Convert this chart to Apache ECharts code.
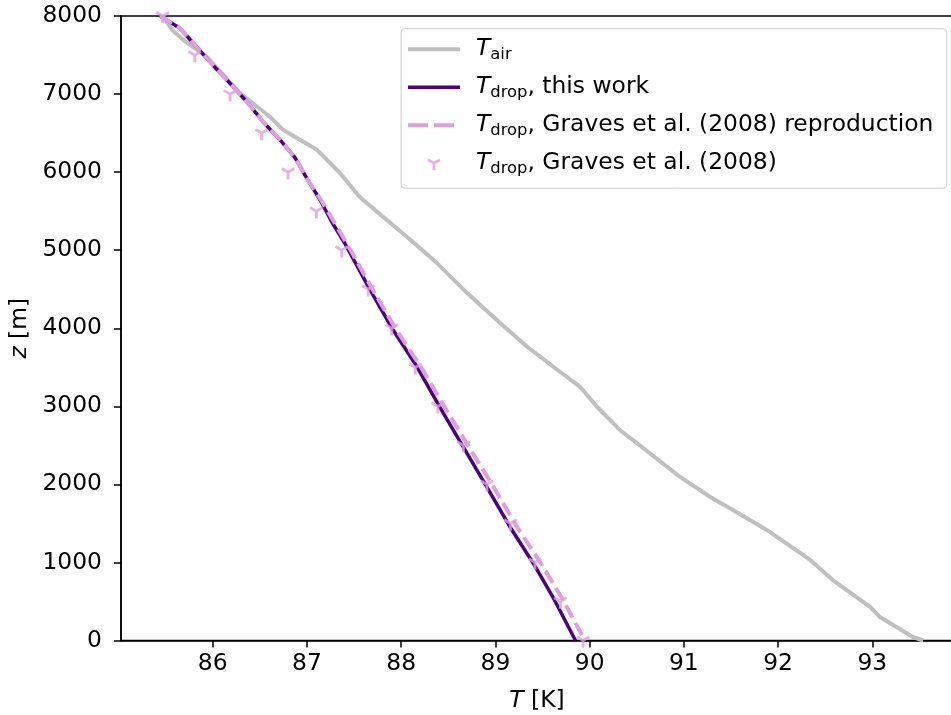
<!DOCTYPE html>
<html>
<head>
<meta charset="utf-8">
<script src="https://cdn.jsdelivr.net/npm/echarts@6/dist/echarts.min.js"></script>
<style>
html,body{margin:0;padding:0;background:#fff;}
#chart{width:951px;height:715px;}
</style>
</head>
<body>
<div id="chart"></div>
<script>
// ---- data ----
const xTicks = [86, 87, 88, 89, 90, 91, 92, 93];
const yTicks = [0, 1000, 2000, 3000, 4000, 5000, 6000, 7000, 8000];

const tairT = [85.47, 85.57, 85.69, 85.94, 86.29, 86.61, 86.75, 87.11, 87.35, 87.56, 87.81, 88.10, 88.38, 88.70, 89.05, 89.34, 89.66, 89.90, 90.08, 90.32, 90.46, 90.96, 91.28, 91.52, 91.88, 92.34, 92.58, 92.98, 93.08, 93.43, 93.54];
const tairZ = [8000, 7822, 7692, 7475, 7013, 6706, 6539, 6283, 5989, 5682, 5425, 5130, 4835, 4451, 4067, 3760, 3465, 3248, 2991, 2697, 2568, 2095, 1838, 1672, 1416, 1032, 775, 429, 301, 45, 0];

const dropT = [85.44, 85.65, 85.83, 86.00, 86.18, 86.365, 86.535, 86.715, 86.875, 87.01, 87.14, 87.27, 87.40, 87.67, 87.915, 88.17, 88.41, 88.66, 88.91, 89.155, 89.40, 89.61, 89.85];
const dropZ = [8000, 7846, 7603, 7373, 7142, 6899, 6643, 6412, 6182, 5899, 5643, 5348, 5092, 4490, 3977, 3503, 2991, 2478, 1966, 1454, 993, 557, 0];

const reproT = [85.44, 85.65, 85.83, 86.00, 86.18, 86.365, 86.535, 86.715, 86.875, 87.01, 87.15, 87.42, 87.70, 87.95, 88.21, 88.46, 88.72, 88.98, 89.23, 89.48, 89.70, 89.95];
const reproZ = [8000, 7846, 7603, 7373, 7142, 6899, 6643, 6412, 6182, 5899, 5643, 5092, 4490, 3977, 3503, 2991, 2478, 1966, 1454, 993, 557, 0];

const gravesT = [85.47, 85.81, 86.185, 86.52, 86.80, 87.10, 87.37, 87.65, 87.90, 88.15, 88.39, 88.66, 88.91, 89.16, 89.42, 89.69, 89.93];
const gravesZ = [8000, 7500, 7000, 6500, 6000, 5500, 5000, 4500, 4000, 3500, 3000, 2500, 2000, 1500, 1000, 500, 0];

const seriesNames = ['Tair', 'Tdrop this work', 'Tdrop repro', 'Tdrop Graves'];
const legendLabels = {
  'Tair': '{t|T}{s|air}',
  'Tdrop this work': '{t|T}{s|drop}{r|, this work}',
  'Tdrop repro': '{t|T}{s|drop}{r|, Graves et al. (2008) reproduction}',
  'Tdrop Graves': '{t|T}{s|drop}{r|, Graves et al. (2008)}'
};

function zip(a, b) { return a.map((v, i) => [v, b[i]]); }

const FONT = 'DejaVu Sans';
const FS = 23.4;
// filled "tri_down" (Y) marker shape, centred on the junction
const triDown = 'path://M0,-10' +
  'M-2,-1L-2,10L2,10L2,-1Z' +
  'M1.866,-1.232L-7.66,-6.732L-9.66,-3.268L-0.134,2.232Z' +
  'M0.134,2.232L9.66,-3.268L7.66,-6.732L-1.866,-1.232Z';
const iconSolid4 = 'path://M0,0H52V4H0Z';
const iconSolid3 = 'path://M0,0H52V3.5H0Z';
const iconDash4 = 'path://M52,0M0,0H20V4H0Z M26,0H46V4H26Z';

const chart = echarts.init(document.getElementById('chart'), null, {renderer: 'canvas'});
chart.setOption({
  animation: false,
  backgroundColor: '#ffffff',
  textStyle: {fontFamily: FONT},
  grid: {
    left: 121, right: -2, top: 16, bottom: 74.5,
    show: true, borderColor: '#000', borderWidth: 1.5,
    outerBoundsMode: 'none', containLabel: false
  },
  xAxis: {
    type: 'value', min: 85.027, max: 93.856,
    axisLine: {show: true, lineStyle: {color: '#000', width: 1.5}},
    axisTick: {show: true, customValues: xTicks, length: 7, lineStyle: {color: '#000', width: 1.5}},
    axisLabel: {customValues: xTicks, color: '#000', fontSize: FS, fontFamily: FONT, margin: 12,
      formatter: v => String(v)},
    splitLine: {show: false},
    name: '{i|T} [K]', nameLocation: 'middle', nameGap: 49,
    nameTextStyle: {color: '#000', fontSize: FS, fontFamily: FONT,
      rich: {i: {fontStyle: 'italic', fontSize: FS, fontFamily: FONT, color: '#000'}}}
  },
  yAxis: {
    type: 'value', min: 0, max: 8000, interval: 1000,
    axisLine: {show: true, lineStyle: {color: '#000', width: 1.5}},
    axisTick: {show: true, customValues: yTicks, length: 7, lineStyle: {color: '#000', width: 1.5}},
    axisLabel: {customValues: yTicks, color: '#000', fontSize: FS, fontFamily: FONT, margin: 19,
      showMinLabel: true, showMaxLabel: true, formatter: v => String(v)},
    splitLine: {show: false},
    name: '{i|z} [m]', nameLocation: 'middle', nameGap: 80, nameRotate: 90,
    nameTextStyle: {color: '#000', fontSize: FS, fontFamily: FONT,
      rich: {i: {fontStyle: 'italic', fontSize: FS, fontFamily: FONT, color: '#000'}}}
  },
  legend: {
    orient: 'vertical', left: 401, top: 28.7,
    padding: [6.5, 13.5, 11, 7], itemGap: 10.0,
    itemWidth: 52, itemHeight: 14,
    backgroundColor: 'rgba(255,255,255,0.8)', borderColor: '#cccccc', borderWidth: 1, borderRadius: 4,
    selectedMode: false,
    data: [
      {name: seriesNames[0], icon: iconSolid4},
      {name: seriesNames[1], icon: iconSolid3},
      {name: seriesNames[2], icon: iconDash4},
      {name: seriesNames[3]}
    ],
    formatter: name => legendLabels[name],
    textStyle: {
      fontFamily: FONT, fontSize: FS, color: '#000',
      rich: {
        t: {fontStyle: 'italic', fontSize: FS, fontFamily: FONT, color: '#000', lineHeight: 28, padding: [0, 0, 0, 11]},
        s: {fontSize: 16.4, fontFamily: FONT, color: '#000', lineHeight: 16, padding: [12, 0, 0, 0]},
        r: {fontSize: FS, fontFamily: FONT, color: '#000', lineHeight: 28}
      }
    }
  },
  series: [
    {name: seriesNames[0], type: 'line', data: zip(tairT, tairZ), symbol: 'none',
      lineStyle: {color: '#bfbfbf', width: 4}, itemStyle: {color: '#bfbfbf'}, emphasis: {disabled: true}, z: 2},
    {name: seriesNames[1], type: 'line', data: zip(dropT, dropZ), symbol: 'none',
      lineStyle: {color: '#4b0082', width: 3.5}, itemStyle: {color: '#4b0082'}, emphasis: {disabled: true}, z: 3},
    {name: seriesNames[2], type: 'line', data: zip(reproT, reproZ), symbol: 'none',
      lineStyle: {color: '#dda0dd', width: 4, type: [14, 6]}, itemStyle: {color: '#dda0dd'}, emphasis: {disabled: true}, z: 4},
    {name: seriesNames[3], type: 'scatter', data: zip(gravesT, gravesZ), symbol: triDown, symbolSize: [14, 14.5],
      itemStyle: {color: '#dda0dd', borderWidth: 0}, emphasis: {disabled: true}, z: 5}
  ]
});
</script>
</body>
</html>
